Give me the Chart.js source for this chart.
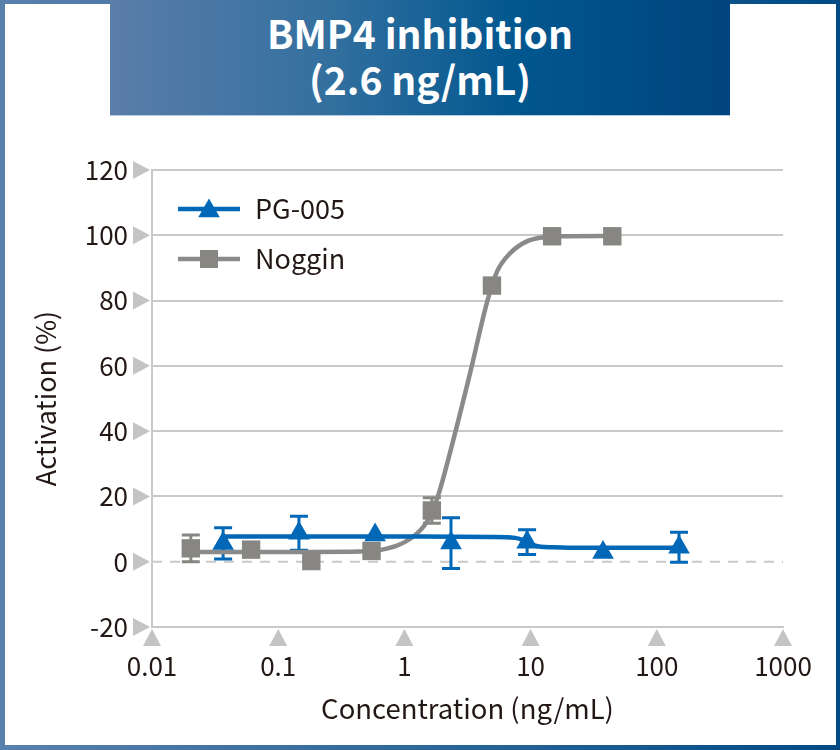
<!DOCTYPE html>
<html>
<head>
<meta charset="utf-8">
<script src="https://cdn.jsdelivr.net/npm/chart.js@4.4.1/dist/chart.umd.min.js"></script>
<style>
  html, body { margin: 0; padding: 0; }
  body { width: 840px; height: 750px; overflow: hidden; position: relative; }
  #frame { position: absolute; left: 0; top: 0; width: 840px; height: 750px;
    background: linear-gradient(90deg, #5a80ad, #2c6899 50%, #004a85); }
  #panel { position: absolute; left: 5px; top: 4px; right: 4px; bottom: 5px; background: #fff; }
  #title { position: absolute; left: 110px; top: 0; width: 620px; height: 116px; box-sizing: border-box;
    background: linear-gradient(90deg, #5b7da9 0%, #33709f 35%, #02578f 65%, #00447f 100%);
    border-bottom: 1px solid #b4cbe0;
    color: #fff; font: bold 39px "Noto Sans CJK JP", sans-serif; text-align: center;
    line-height: 46px; padding-top: 9px; }
  #doseChart { position: absolute; left: 0; top: 0; }
</style>
</head>
<body>
<div id="frame"></div>
<div id="panel"></div>
<canvas id="doseChart" width="840" height="750"></canvas>
<div id="title">BMP4 inhibition<br>(2.6 ng/mL)</div>
<script>
"use strict";

// axis ticks
const xTicks = [0.01, 0.1, 1, 10, 100, 1000];
const xTickLabels = ["0.01", "0.1", "1", "10", "100", "1000"];
const yTicks = [-20, 0, 20, 40, 60, 80, 100, 120];

// PG-005 measured points (ng/mL, % activation, error)
const pgConc = [0.0366, 0.146, 0.586, 2.34, 9.38, 37.5, 150];
const pgMean = [5.6, 8.7, 8.2, 5.7, 6.0, 2.8, 4.4];
const pgErr = [4.8, 5.2, 0, 7.8, 3.8, 0, 4.6];

// Noggin measured points
const nogConc = [0.0203, 0.061, 0.183, 0.549, 1.65, 4.94, 14.8, 44.4];
const nogMean = [4.1, 3.7, 0.2, 3.3, 15.7, 84.6, 99.7, 99.7];
const nogErr = [4.1, 0, 0, 0, 3.9, 0, 0, 0];

// fitted curves
const pgFitConc = [0.0366, 1, 5, 7.5, 8.5, 9.4, 10.5, 12, 15, 20, 150];
const pgFitVal = [7.7, 7.7, 7.6, 7.3, 6.8, 6.0, 5.1, 4.6, 4.4, 4.3, 4.3];
const nogFitConc = [0.0203, 0.18, 0.45, 0.65, 1.12, 1.51, 1.82, 2.46, 3.34, 4.53, 5.44, 6.93, 9.42, 12.8, 17.3, 44.4];
const nogFitVal = [3.0, 3.0, 3.1, 3.6, 7.1, 12.3, 19.4, 37.8, 58.3, 79.7, 89, 94.6, 98.2, 99.4, 99.7, 99.8];

const BLUE = "#0068b7";
const GREY = "#878683";
const GREY_LINE = "#8a8a8a";
const TEXT = "#231815";
const GRID = "#c9c9c9";
const FONT = "Noto Sans CJK JP";

function pts(xs, ys) {
  return xs.map((v, i) => ({ x: v, y: ys[i] }));
}

function drawTri(ctx, x, y, r) {
  ctx.beginPath();
  ctx.moveTo(x, y - r);
  ctx.lineTo(x + r * 0.866, y + r / 2);
  ctx.lineTo(x - r * 0.866, y + r / 2);
  ctx.closePath();
  ctx.fill();
}

const extras = {
  id: "extras",
  beforeDatasetsDraw(chart) {
    const { ctx, chartArea, scales } = chart;
    const x = scales.x, y = scales.y;
    ctx.save();
    // dashed zero line
    ctx.strokeStyle = GRID;
    ctx.lineWidth = 2;
    ctx.setLineDash([10, 8]);
    const y0 = y.getPixelForValue(0);
    ctx.beginPath();
    ctx.moveTo(chartArea.left, y0);
    ctx.lineTo(chartArea.right, y0);
    ctx.stroke();
    ctx.setLineDash([]);

    // error bars
    ctx.lineWidth = 3;
    const bars = [[pgConc, pgMean, pgErr, BLUE], [nogConc, nogMean, nogErr, GREY]];
    bars.forEach(([xs, ms, es, col]) => {
      ctx.strokeStyle = col;
      xs.forEach((c, i) => {
        if (!es[i]) return;
        const px = x.getPixelForValue(c);
        const top = y.getPixelForValue(ms[i] + es[i]);
        const bot = y.getPixelForValue(ms[i] - es[i]);
        ctx.beginPath();
        ctx.moveTo(px, top); ctx.lineTo(px, bot);
        ctx.moveTo(px - 9, top); ctx.lineTo(px + 9, top);
        ctx.moveTo(px - 9, bot); ctx.lineTo(px + 9, bot);
        ctx.stroke();
      });
    });
    ctx.restore();
  },
  afterDraw(chart) {
    const { ctx, chartArea, scales } = chart;
    const x = scales.x, y = scales.y;
    ctx.save();
    // triangle tick marks
    ctx.fillStyle = "#c4c4c4";
    yTicks.forEach(v => {
      const py = y.getPixelForValue(v);
      ctx.beginPath();
      ctx.moveTo(chartArea.left - 19, py - 9);
      ctx.lineTo(chartArea.left - 19, py + 9);
      ctx.lineTo(chartArea.left - 2, py);
      ctx.closePath();
      ctx.fill();
    });
    xTicks.forEach(v => {
      const px = x.getPixelForValue(v);
      ctx.beginPath();
      ctx.moveTo(px - 9, chartArea.bottom + 19);
      ctx.lineTo(px + 9, chartArea.bottom + 19);
      ctx.lineTo(px, chartArea.bottom + 2);
      ctx.closePath();
      ctx.fill();
    });

    // legend
    const items = [
      { label: "PG-005", color: BLUE, mark: "tri", y: 209 },
      { label: "Noggin", color: GREY, line: GREY_LINE, mark: "rect", y: 259 }
    ];
    ctx.font = "27px '" + FONT + "'";
    ctx.textBaseline = "middle";
    items.forEach(it => {
      ctx.strokeStyle = it.line || it.color;
      ctx.lineWidth = 4.5;
      ctx.beginPath();
      ctx.moveTo(178, it.y);
      ctx.lineTo(240, it.y);
      ctx.stroke();
      ctx.fillStyle = it.color;
      if (it.mark === "tri") drawTri(ctx, 209, it.y + 2, 12.5);
      else ctx.fillRect(200, it.y - 9, 18, 18);
      ctx.fillStyle = TEXT;
      ctx.fillText(it.label, 255, it.y);
    });
    ctx.restore();
  }
};

const lineBase = { showLine: true, pointRadius: 0, borderWidth: 4.5, cubicInterpolationMode: "monotone", fill: false };
const markBase = { showLine: false, pointBorderWidth: 0, pointHoverRadius: 0 };

new Chart(document.getElementById("doseChart").getContext("2d"), {
  type: "scatter",
  data: {
    datasets: [
      Object.assign({ label: "PG-005", data: pts(pgConc, pgMean), pointStyle: "triangle", pointRadius: 12.5,
        backgroundColor: BLUE, borderColor: BLUE, order: 1 }, markBase),
      Object.assign({ label: "PG-005 fit", data: pts(pgFitConc, pgFitVal), borderColor: BLUE, order: 2 }, lineBase),
      Object.assign({ label: "Noggin", data: pts(nogConc, nogMean), pointStyle: "rect", pointRadius: 13,
        backgroundColor: GREY, borderColor: GREY, order: 3 }, markBase),
      Object.assign({ label: "Noggin fit", data: pts(nogFitConc, nogFitVal), borderColor: GREY_LINE, order: 4 }, lineBase)
    ]
  },
  options: {
    responsive: false,
    animation: false,
    events: [],
    layout: { padding: { left: 0, top: 170, right: 57, bottom: 0 } },
    plugins: { legend: { display: false }, tooltip: { enabled: false } },
    scales: {
      x: {
        type: "logarithmic",
        min: 0.01,
        max: 1000,
        afterBuildTicks: s => { s.ticks = xTicks.map(v => ({ value: v })); },
        afterFit: s => { s.height = 123; },
        grid: { display: false, drawTicks: false },
        border: { display: true, color: GRID, width: 2 },
        ticks: {
          autoSkip: false, maxRotation: 0, padding: 24, color: TEXT,
          font: { family: FONT, size: 26 },
          callback: (v, i) => xTickLabels[i]
        },
        title: {
          display: true, text: "Concentration (ng/mL)", color: TEXT,
          font: { family: FONT, size: 27.5 }, padding: { top: 0, bottom: 25 }
        }
      },
      y: {
        min: -20,
        max: 120,
        afterBuildTicks: s => { s.ticks = yTicks.map(v => ({ value: v })); },
        afterFit: s => { s.width = 152; },
        grid: { color: c => (c.tick && c.tick.value === 0 ? "rgba(0,0,0,0)" : GRID), lineWidth: 2, drawTicks: false },
        border: { display: true, color: GRID, width: 2 },
        ticks: { padding: 24, color: TEXT, font: { family: FONT, size: 26 }, callback: v => String(v) },
        title: {
          display: true, text: "Activation (%)", color: TEXT,
          font: { family: FONT, size: 27 }, padding: { top: 30, bottom: 0 }
        }
      }
    }
  },
  plugins: [extras]
});
</script>
</body>
</html>
